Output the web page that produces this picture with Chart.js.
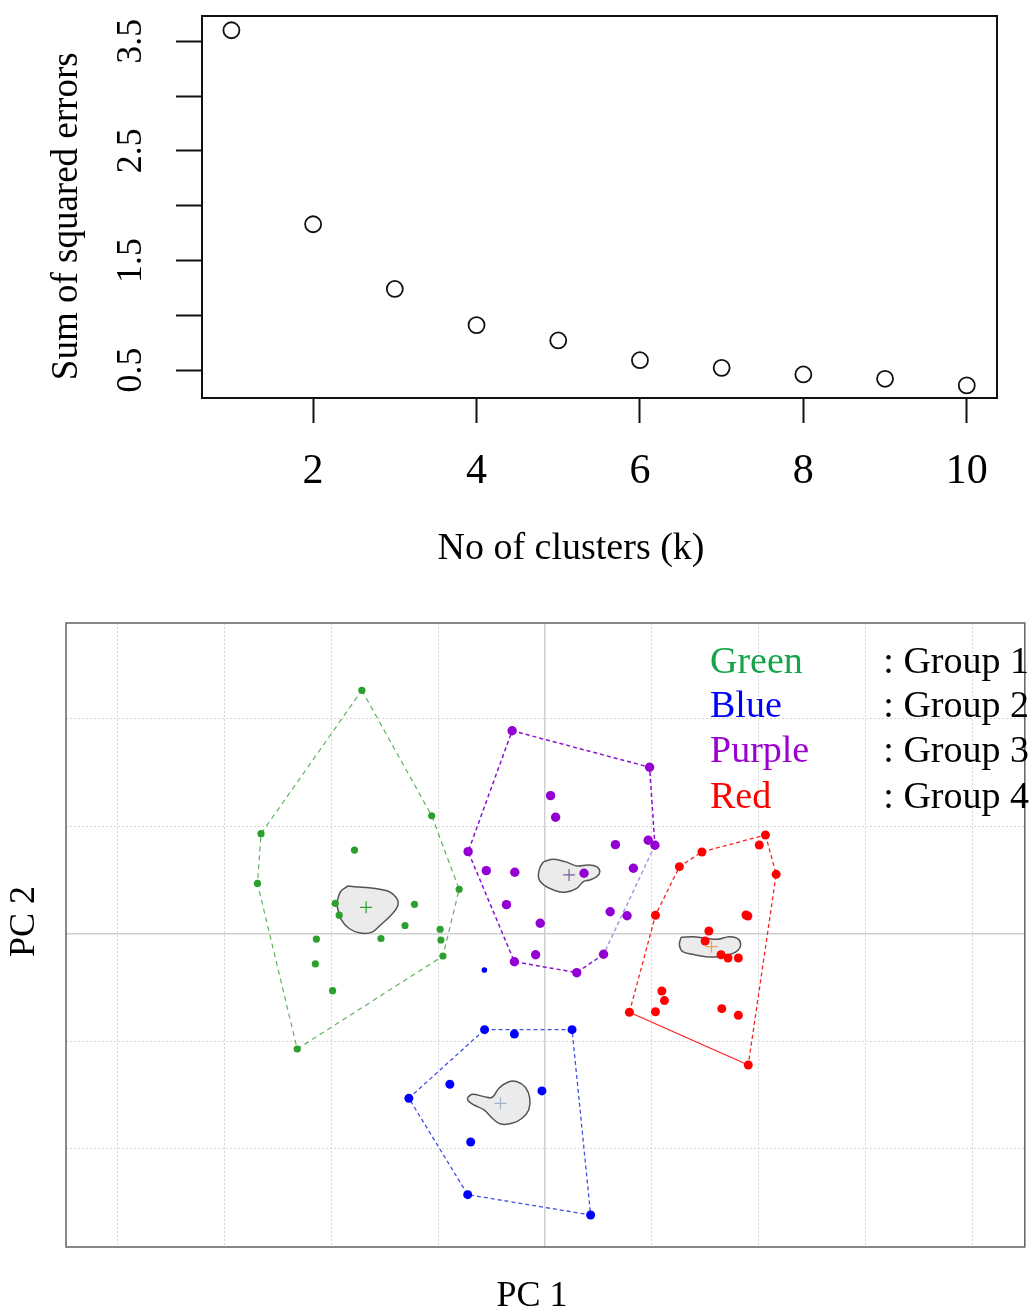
<!DOCTYPE html>
<html><head><meta charset="utf-8">
<script src="https://cdn.jsdelivr.net/npm/chart.js@4.4.0/dist/chart.umd.min.js"></script>
<style>
html,body{margin:0;padding:0;background:#fff;}
body{width:1032px;height:1315px;position:relative;overflow:hidden;font-family:'Liberation Serif','Times New Roman',serif;}
#c1{position:absolute;left:0;top:0;}
#c2{position:absolute;left:0;top:590px;}
.lg{position:absolute;font-size:38px;line-height:38px;white-space:nowrap;}
.lc{left:710px;}
.lr{right:3px;text-align:right;color:#000;}
</style></head><body>
<canvas id="c1" width="1032" height="580"></canvas>
<canvas id="c2" width="1032" height="725"></canvas>
<div id="legend"></div>
<script>
// ---------- Top chart: elbow plot ----------
const kValues   = [1, 2, 3, 4, 5, 6, 7, 8, 9, 10];
const sseValues = [3.60, 1.83, 1.24, 0.91, 0.77, 0.59, 0.52, 0.46, 0.42, 0.36];
const sseXTicks = [2, 4, 6, 8, 10];
const sseYTicks = [0.5, 1.0, 1.5, 2.0, 2.5, 3.0, 3.5];
const sseYLabels = ['0.5', '', '1.5', '', '2.5', '', '3.5'];

// ---------- Bottom chart: cluster plot ----------
const xGridTicks = [-4, -3, -2, -1, 0, 1, 2, 3, 4];
const yGridTicks = [-2, -1, 0, 1, 2];
const zeroTicks = [0];

const group1Points = [[-1.714,2.267],[-2.658,0.933],[-1.060,1.100],[-1.783,0.781],[-2.691,0.470],[-0.803,0.416],[-1.963,0.284],[-1.926,0.175],[-1.221,0.276],[-1.310,0.079],[-0.981,0.044],[-2.140,-0.047],[-1.535,-0.042],[-0.974,-0.056],[-0.955,-0.205],[-2.149,-0.279],[-1.988,-0.527],[-2.319,-1.070]];
const group1Hull = [0, 2, 5, 14, 17, 4, 1];
const group1Center = [-1.674, 0.248];
const group1Blob = [[-1.842,0.447],[-1.488,0.405],[-1.393,0.340],[-1.377,0.265],[-1.439,0.177],[-1.540,0.084],[-1.619,0.017],[-1.730,0.009],[-1.833,0.051],[-1.912,0.140],[-1.941,0.242],[-1.947,0.286],[-1.914,0.393]];

const group2Points = [[-0.565,-0.890],[-0.286,-0.930],[0.254,-0.890],[-0.890,-1.398],[-0.028,-1.460],[-1.274,-1.528],[-0.695,-1.935],[-0.723,-2.425],[0.428,-2.614]];
const group2Hull = [0, 2, 8, 7, 5];
const group2Extra = [[-0.567,-0.335]];
const group2Center = [-0.416, -1.575];
const group2Blob = [[-0.726,-1.523],[-0.679,-1.491],[-0.570,-1.513],[-0.493,-1.519],[-0.431,-1.435],[-0.338,-1.374],[-0.260,-1.374],[-0.183,-1.426],[-0.142,-1.528],[-0.152,-1.637],[-0.214,-1.714],[-0.307,-1.761],[-0.416,-1.767],[-0.493,-1.714],[-0.570,-1.637],[-0.663,-1.591],[-0.719,-1.551]];

const group3Points = [[-0.307,1.891],[0.980,1.551],[0.053,1.287],[0.100,1.086],[-0.719,0.766],[0.660,0.831],[0.967,0.872],[1.030,0.825],[-0.549,0.589],[-0.282,0.574],[0.366,0.565],[0.828,0.611],[-0.360,0.273],[0.611,0.207],[0.769,0.170],[-0.044,0.100],[-0.286,-0.258],[-0.087,-0.193],[0.549,-0.189],[0.298,-0.360]];
const group3Hull = [0, 1, 7, 18, 19, 16, 4];
const group3Center = [0.226, 0.549];
const group3Blob = [[-0.012,0.673],[0.081,0.695],[0.189,0.673],[0.298,0.633],[0.407,0.642],[0.484,0.626],[0.514,0.580],[0.484,0.533],[0.421,0.502],[0.360,0.487],[0.298,0.425],[0.189,0.388],[0.081,0.409],[-0.012,0.456],[-0.059,0.518],[-0.049,0.611]];

const group4Points = [[2.065,0.921],[2.007,0.828],[1.470,0.763],[1.259,0.626],[2.165,0.555],[1.035,0.174],[1.882,0.177],[1.900,0.167],[1.535,0.028],[1.500,-0.065],[1.649,-0.193],[1.714,-0.223],[1.811,-0.223],[1.095,-0.530],[1.119,-0.620],[1.035,-0.723],[0.791,-0.728],[1.656,-0.695],[1.811,-0.756],[1.904,-1.219]];
const group4Hull = [0, 4, 19, 16, 5, 3, 2];
const group4Center = [1.560, -0.118];
const group4Blob = [[1.274,-0.031],[1.383,-0.025],[1.507,-0.040],[1.616,-0.049],[1.724,-0.025],[1.802,-0.040],[1.833,-0.093],[1.811,-0.149],[1.740,-0.189],[1.631,-0.211],[1.507,-0.211],[1.383,-0.189],[1.290,-0.165],[1.259,-0.102]];

const legendNames  = ['Green', 'Blue', 'Purple', 'Red'];
const legendGroups = [': Group 1', ': Group 2', ': Group 3', ': Group 4'];
const legendColors = ['#14a54a', '#0000ff', '#9b00d0', '#ff0000'];

// ---------- helpers ----------
const FONT = "'Liberation Serif','Times New Roman',serif";
const toXY = arr => arr.map(p => ({x: p[0], y: p[1]}));
const closed = arr => toXY(arr.concat([arr[0]]));
const hullXY = (pts, idx) => closed(idx.map(i => pts[i]));

const framePlugin = {
  id: 'frame',
  afterDatasetsDraw(chart, args, opts) {
    const {ctx, chartArea: a} = chart;
    ctx.save();
    ctx.strokeStyle = opts.color;
    ctx.lineWidth = opts.width;
    ctx.strokeRect(a.left, a.top, a.right - a.left, a.bottom - a.top);
    ctx.restore();
  }
};

// ---------- Top chart ----------
new Chart(document.getElementById('c1'), {
  type: 'scatter',
  data: {
    datasets: [{
      data: kValues.map((k, i) => ({x: k, y: sseValues[i]})),
      pointRadius: 8, pointHoverRadius: 8, pointBorderWidth: 1.8,
      borderColor: '#111', backgroundColor: 'rgba(0,0,0,0)'
    }]
  },
  options: {
    responsive: false, animation: false, devicePixelRatio: 1, events: [],
    layout: {padding: {top: 16, right: 35, left: 0, bottom: 0}},
    plugins: {legend: {display: false}, tooltip: {enabled: false}, frame: {color: '#111', width: 2}},
    scales: {
      x: {
        type: 'linear', min: 0.64, max: 10.37,
        afterBuildTicks: s => { s.ticks = sseXTicks.map(v => ({value: v})); },
        afterFit: s => { s.height = 182; s.paddingLeft = 0; s.paddingRight = 0; },
        grid: {drawOnChartArea: false, drawTicks: true, tickLength: 25, tickColor: '#111', tickWidth: 2},
        border: {display: false},
        ticks: {autoSkip: false, minRotation: 0, maxRotation: 0, padding: 24, color: '#000',
                font: {family: FONT, size: 42}, callback: v => String(v)},
        title: {display: true, text: 'No of clusters (k)' + '\u00a0'.repeat(6), color: '#000',
                font: {family: FONT, size: 38, lineHeight: 1}, padding: {top: 0, bottom: 12}}
      },
      y: {
        type: 'linear', min: 0.245, max: 3.73,
        afterBuildTicks: s => { s.ticks = sseYTicks.map(v => ({value: v})); },
        afterFit: s => { s.width = 202; s.paddingTop = 0; s.paddingBottom = 0; },
        grid: {drawOnChartArea: false, drawTicks: true, tickLength: 26, tickColor: '#111', tickWidth: 2},
        border: {display: false},
        ticks: {autoSkip: false, minRotation: 90, maxRotation: 90, crossAlign: 'center', padding: 22, color: '#000',
                font: {family: FONT, size: 36}, callback: (v, i) => sseYLabels[i]},
        title: {display: true, text: 'Sum of squared errors' + '\u00a0'.repeat(2), color: '#000',
                font: {family: FONT, size: 37, lineHeight: 1}, padding: {top: 49, bottom: 0}}
      }
    }
  },
  plugins: [framePlugin]
});

// ---------- Bottom chart ----------
const groups = [
  {pts: group1Points, hull: group1Hull, center: group1Center, blob: group1Blob, color: '#2ca02c', r: 3.6, hullColor: '#5fb35f', hullWidth: 1.2, centerColor: '#2ca02c'},
  {pts: group2Points, hull: group2Hull, center: group2Center, blob: group2Blob, color: '#0000ff', r: 4.5, hullColor: '#4050e0', hullWidth: 1.3, centerColor: '#9db4cc'},
  {pts: group3Points, hull: group3Hull, center: group3Center, blob: group3Blob, color: '#9400d3', r: 4.7, hullColor: '#8a10d0', hullWidth: 1.5, centerColor: '#7a5c9e'},
  {pts: group4Points, hull: group4Hull, center: group4Center, blob: group4Blob, color: '#ff0000', r: 4.5, hullColor: '#ff2020', hullWidth: 1.3, centerColor: '#f0a050'}
];

const datasets = [];
groups.forEach((g, gi) => {
  datasets.push({type: 'scatter', data: toXY(g.pts), pointRadius: g.r, pointHoverRadius: g.r, pointBorderWidth: 0,
                 backgroundColor: g.color, borderColor: g.color, order: 0});
  datasets.push({type: 'scatter', data: toXY([g.center]), pointStyle: 'cross', pointRadius: 6, pointHoverRadius: 6,
                 pointBorderWidth: 1.2, borderColor: g.centerColor, backgroundColor: g.centerColor, order: 1});
  const segment = {};
  if (gi === 3) segment.borderDash = ctx => ctx.p0DataIndex === 2 ? [] : [4, 3];
  if (gi === 2) segment.borderColor = ctx => ctx.p0DataIndex === 2 ? '#b592e0' : g.hullColor;
  datasets.push({type: 'line', data: hullXY(g.pts, g.hull), borderColor: g.hullColor, borderWidth: g.hullWidth,
                 borderDash: gi === 0 ? [5, 4] : [4, 3], pointRadius: 0, fill: false, tension: 0, order: 2, segment});
  datasets.push({type: 'line', data: closed(g.blob), borderColor: '#555', borderWidth: 1.5, backgroundColor: '#ebebeb',
                 fill: 'shape', pointRadius: 0, tension: 0.4, order: 3});
});
datasets.push({type: 'scatter', data: toXY(group2Extra), pointRadius: 2.8, pointHoverRadius: 2.8, pointBorderWidth: 0,
               backgroundColor: '#0000ff', order: 0});

const X_MIN = -4.484, X_MAX = 4.493, Y_MIN = -2.912, Y_MAX = 2.893;
new Chart(document.getElementById('c2'), {
  type: 'scatter',
  data: {datasets},
  options: {
    responsive: false, animation: false, devicePixelRatio: 1, events: [],
    layout: {padding: {top: 33, right: 1, left: 0, bottom: 0}},
    plugins: {legend: {display: false}, tooltip: {enabled: false}, frame: {color: '#6a6a6a', width: 1.6}},
    scales: {
      x: {
        type: 'linear', position: 'bottom', min: X_MIN, max: X_MAX,
        afterBuildTicks: s => { s.ticks = xGridTicks.map(v => ({value: v})); },
        afterFit: s => { s.height = 68; s.paddingLeft = 0; s.paddingRight = 0; },
        grid: {color: '#d6d6d6', lineWidth: 1, drawTicks: false},
        border: {display: false, dash: [2, 2]},
        ticks: {display: false},
        title: {display: true, text: 'PC 1' + '\u00a0'.repeat(3), color: '#000',
                font: {family: FONT, size: 36, lineHeight: 1}, padding: {top: 0, bottom: 0}}
      },
      y: {
        type: 'linear', position: 'left', min: Y_MIN, max: Y_MAX,
        afterBuildTicks: s => { s.ticks = yGridTicks.map(v => ({value: v})); },
        afterFit: s => { s.width = 66; s.paddingTop = 0; s.paddingBottom = 0; },
        grid: {color: '#d6d6d6', lineWidth: 1, drawTicks: false},
        border: {display: false, dash: [2, 2]},
        ticks: {display: false},
        title: {display: true, text: '\u00a0'.repeat(3) + 'PC 2', color: '#000',
                font: {family: FONT, size: 36, lineHeight: 1}, padding: {top: 6.5, bottom: 0}}
      },
      x0: {
        type: 'linear', position: 'bottom', min: X_MIN, max: X_MAX,
        afterBuildTicks: s => { s.ticks = zeroTicks.map(v => ({value: v})); },
        afterFit: s => { s.height = 0; s.paddingLeft = 0; s.paddingRight = 0; },
        grid: {color: '#cfcfcf', lineWidth: 1.5, drawTicks: false},
        border: {display: false},
        ticks: {display: false}
      },
      y0: {
        type: 'linear', position: 'left', min: Y_MIN, max: Y_MAX,
        afterBuildTicks: s => { s.ticks = zeroTicks.map(v => ({value: v})); },
        afterFit: s => { s.width = 0; s.paddingTop = 0; s.paddingBottom = 0; },
        grid: {color: '#cfcfcf', lineWidth: 1.5, drawTicks: false},
        border: {display: false},
        ticks: {display: false}
      }
    }
  },
  plugins: [framePlugin]
});

// ---------- Legend (text) ----------
const legendTops = [641, 685, 730, 776];
const lg = document.getElementById('legend');
legendNames.forEach((n, i) => {
  const a = document.createElement('div');
  a.className = 'lg lc'; a.style.top = legendTops[i] + 'px'; a.style.color = legendColors[i]; a.textContent = n;
  const b = document.createElement('div');
  b.className = 'lg lr'; b.style.top = legendTops[i] + 'px'; b.textContent = legendGroups[i];
  lg.appendChild(a); lg.appendChild(b);
});
</script>
</body></html>
